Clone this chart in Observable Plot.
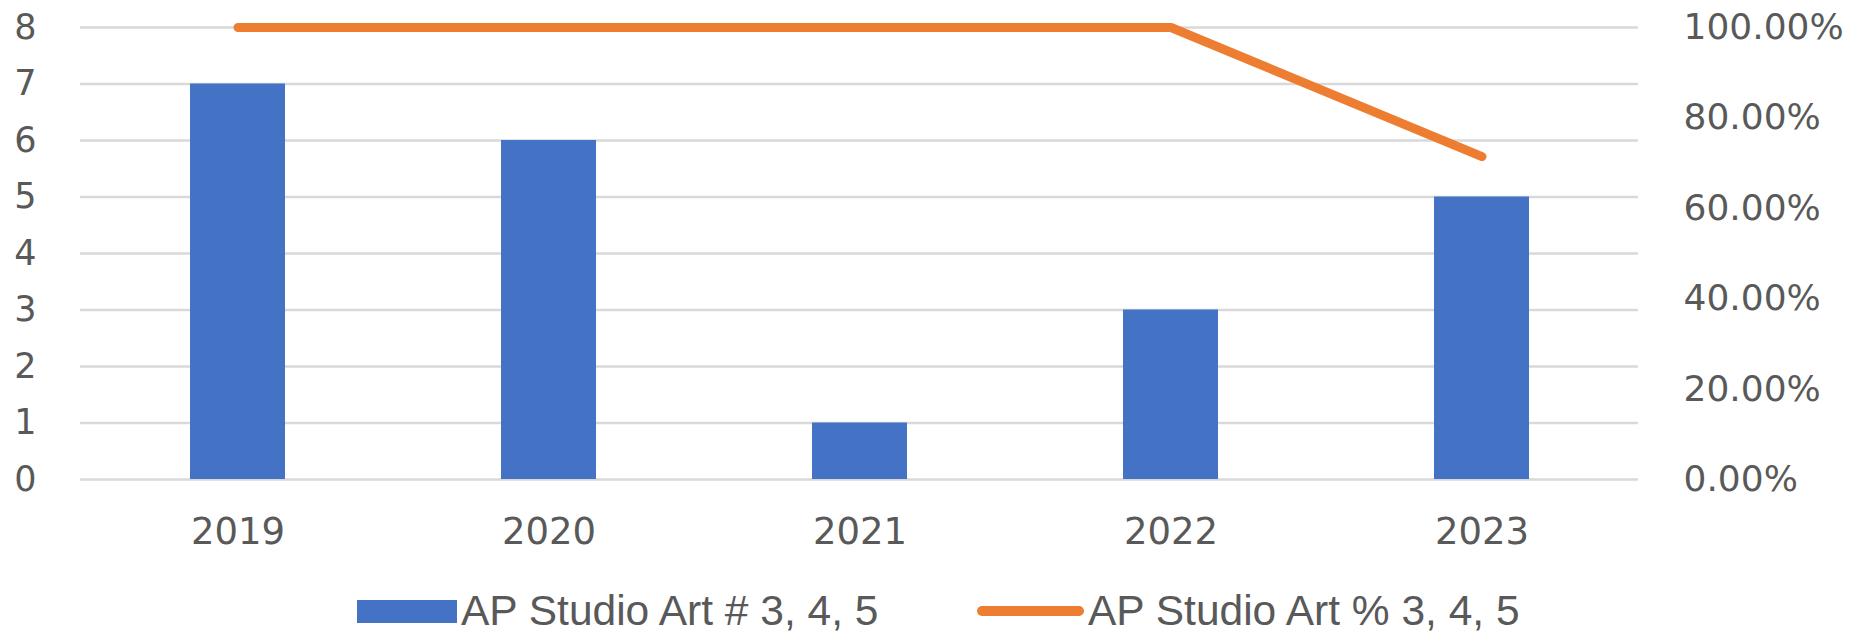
<!DOCTYPE html>
<html><head><meta charset="utf-8">
<script src="https://cdn.jsdelivr.net/npm/d3@7"></script>
<script src="https://cdn.jsdelivr.net/npm/@observablehq/plot@0.6"></script>
<style>
body{margin:0;background:#fff;}
#wrap{position:relative;width:1854px;height:637px;overflow:hidden;}
.leg{position:absolute;top:588px;height:46px;display:flex;align-items:center;font-family:"Liberation Sans",Arial,sans-serif;font-size:42.5px;line-height:46px;color:#595959;white-space:nowrap;}
</style></head><body>
<div id="wrap"></div>
<script>
const years = ["2019","2020","2021","2022","2023"];
const counts = [7, 6, 1, 3, 5];
const percents = [100, 100, 100, 100, 71.43];
const leftTicks = [0,1,2,3,4,5,6,7,8];
const rightTicks = [0,20,40,60,80,100];
const seriesNames = ["AP Studio Art # 3, 4, 5", "AP Studio Art % 3, 4, 5"];
const colors = ["#4472C4", "#ED7D31"];

const leftMax = 8;
const toLeft = p => p / 100 * leftMax;
const table = years.map((y, i) => ({year: y, count: counts[i], pct: percents[i]}));

const chart = Plot.plot({
  width: 1854,
  height: 588,
  marginLeft: 80,
  marginRight: 216,
  marginTop: 27,
  marginBottom: 109,
  style: {fontFamily: "'DejaVu Sans', sans-serif", background: "#fff"},
  x: {type: "band", domain: years, paddingInner: 0.695, paddingOuter: 0.3475},
  y: {domain: [0, leftMax]},
  marks: [
    Plot.ruleY(leftTicks, {stroke: "#d9d9d9", strokeWidth: 2.5}),
    Plot.barY(table, {x: "year", y: "count", fill: colors[0]}),
    Plot.lineY(table, {x: "year", y: d => toLeft(d.pct), stroke: colors[1], strokeWidth: 9, strokeLinecap: "round", strokeLinejoin: "round"}),
    Plot.axisY(leftTicks, {anchor: "left", tickSize: 0, tickPadding: 44, fontSize: 35, fill: "#595959", label: null,
      tickFormat: d => String(d)}),
    Plot.axisY(rightTicks.map(toLeft), {anchor: "right", tickSize: 0, tickPadding: 45, fontSize: 36, fill: "#595959", label: null,
      tickFormat: (d, i) => rightTicks[i].toFixed(2) + "%"}),
    Plot.axisX(years, {tickSize: 0, tickPadding: 38, fontSize: 37, fill: "#595959", label: null})
  ]
});
const wrap = document.getElementById("wrap");
wrap.appendChild(chart);

// legend
const l1 = document.createElement("div");
l1.className = "leg"; l1.style.left = "357px";
l1.innerHTML = `<span style="display:inline-block;width:100px;height:23px;background:${colors[0]};margin-right:4px"></span><span>${seriesNames[0]}</span>`;
wrap.appendChild(l1);
const l2 = document.createElement("div");
l2.className = "leg"; l2.style.left = "977px";
l2.innerHTML = `<span style="display:inline-block;width:107px;height:10px;border-radius:5px;background:${colors[1]};margin-right:4px"></span><span>${seriesNames[1]}</span>`;
wrap.appendChild(l2);
</script>
</body></html>
